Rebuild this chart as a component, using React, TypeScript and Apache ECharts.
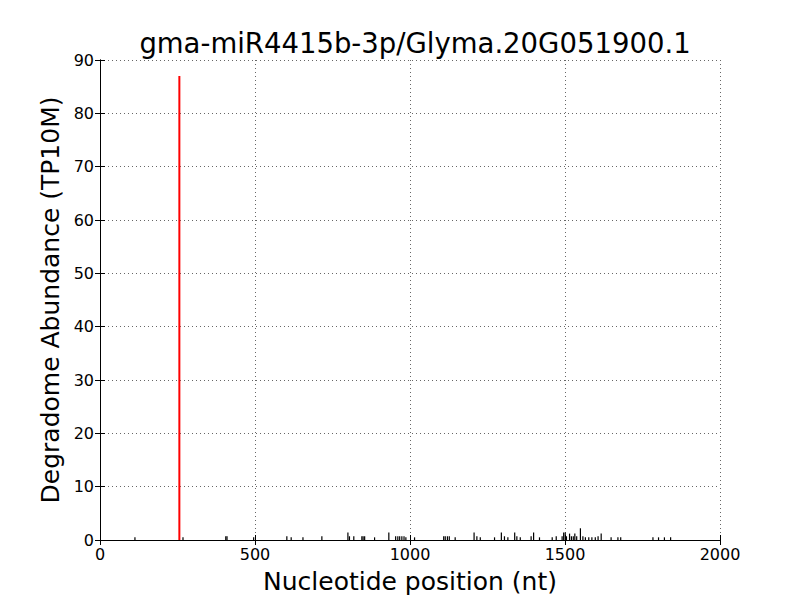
import React, { useEffect, useRef } from "react";
import * as echarts from "echarts";

const titleText = "gma-miR4415b-3p/Glyma.20G051900.1";
const xTicks = [0, 500, 1000, 1500, 2000];
const yTicks = [0, 10, 20, 30, 40, 50, 60, 70, 80, 90];

const targetPos = [256];
const targetVal = [87];

const positions = [114, 269, 407, 411, 497, 604, 618, 656, 717, 801, 806, 820, 846, 850, 855, 887, 933, 955, 962, 968, 975, 982, 988, 1016, 1110, 1115, 1122, 1128, 1147, 1208, 1217, 1228, 1274, 1296, 1306, 1317, 1339, 1346, 1357, 1392, 1400, 1419, 1460, 1473, 1492, 1497, 1502, 1506, 1516, 1522, 1528, 1533, 1539, 1551, 1559, 1567, 1578, 1588, 1599, 1608, 1618, 1650, 1672, 1681, 1785, 1803, 1822, 1842];
const values = [0.5, 0.5, 0.7, 0.7, 0.5, 0.7, 0.5, 0.5, 0.7, 1.4, 0.7, 0.7, 0.7, 0.7, 0.7, 0.5, 1.4, 0.7, 0.7, 0.7, 0.7, 0.7, 0.5, 0.5, 0.7, 0.7, 0.7, 0.7, 0.5, 1.4, 0.7, 0.5, 0.5, 1.4, 0.7, 0.5, 1.4, 0.7, 0.5, 0.7, 1.4, 0.5, 0.5, 0.7, 0.7, 1.4, 1.4, 0.7, 1.2, 0.7, 0.7, 1.2, 0.7, 2.2, 0.7, 0.5, 0.5, 0.5, 0.5, 0.7, 1.2, 0.5, 0.5, 0.5, 0.5, 0.5, 0.5, 0.5];

const font = "DejaVu Sans";

export default function App() {
  const ref = useRef<HTMLDivElement>(null);
  useEffect(() => {
    if (!ref.current) return;
    const chart = echarts.init(ref.current, undefined, { renderer: "svg" });
    const axisCommon = {
      axisLine: { show: true, lineStyle: { color: "#000", width: 1 } },
      axisTick: { show: true, inside: true, length: 5, lineStyle: { color: "#000" } },
    };
    const fmt = (v: number) => String(v);
    chart.setOption({
      animation: false,
      backgroundColor: "#fff",
      title: {
        text: titleText,
        left: 410,
        textAlign: "center",
        top: 24,
        textStyle: { fontFamily: font, fontSize: 27.5, fontWeight: "normal", color: "#000" },
      },
      grid: { left: 100, right: 80, top: 60, bottom: 60 },
      xAxis: [
        {
          type: "value",
          min: xTicks[0],
          max: xTicks[xTicks.length - 1],
          interval: 500,
          name: "Nucleotide position (nt)",
          nameLocation: "middle",
          nameGap: 29,
          nameTextStyle: { fontFamily: font, fontSize: 25, color: "#000" },
          ...axisCommon,
          axisLabel: { fontFamily: font, fontSize: 16, color: "#000", margin: 6, formatter: fmt },
          splitLine: { show: true, lineStyle: { color: "#000", type: [1, 3], width: 0.6 } },
        },
        {
          type: "value",
          position: "top",
          min: xTicks[0],
          max: xTicks[xTicks.length - 1],
          interval: 500,
          ...axisCommon,
          axisLabel: { show: false },
          splitLine: { show: false },
        },
      ],
      yAxis: [
        {
          type: "value",
          min: yTicks[0],
          max: yTicks[yTicks.length - 1],
          interval: 10,
          name: "Degradome Abundance (TP10M)",
          nameLocation: "middle",
          nameGap: 35,
          nameTextStyle: { fontFamily: font, fontSize: 25, color: "#000" },
          ...axisCommon,
          axisLabel: { fontFamily: font, fontSize: 16, color: "#000", margin: 6, formatter: fmt },
          splitLine: { show: true, lineStyle: { color: "#000", type: [1, 3], width: 0.6 } },
        },
        {
          type: "value",
          position: "right",
          min: yTicks[0],
          max: yTicks[yTicks.length - 1],
          interval: 10,
          ...axisCommon,
          axisLabel: { show: false },
          splitLine: { show: false },
        },
      ],
      series: [
        {
          type: "bar",
          xAxisIndex: 0,
          yAxisIndex: 0,
          barWidth: 1.2,
          barGap: "-100%",
          itemStyle: { color: "#000" },
          data: positions.map((p, i) => [p, values[i]]),
          silent: true,
        },
        {
          type: "bar",
          xAxisIndex: 0,
          yAxisIndex: 0,
          barWidth: 2,
          barGap: "-100%",
          itemStyle: { color: "#ff0000" },
          data: targetPos.map((p, i) => [p, targetVal[i]]),
          silent: true,
        },
      ],
    });
    return () => chart.dispose();
  }, []);
  return <div ref={ref} style={{ width: 800, height: 600, position: "absolute", left: 0, top: 0 }} />;
}
